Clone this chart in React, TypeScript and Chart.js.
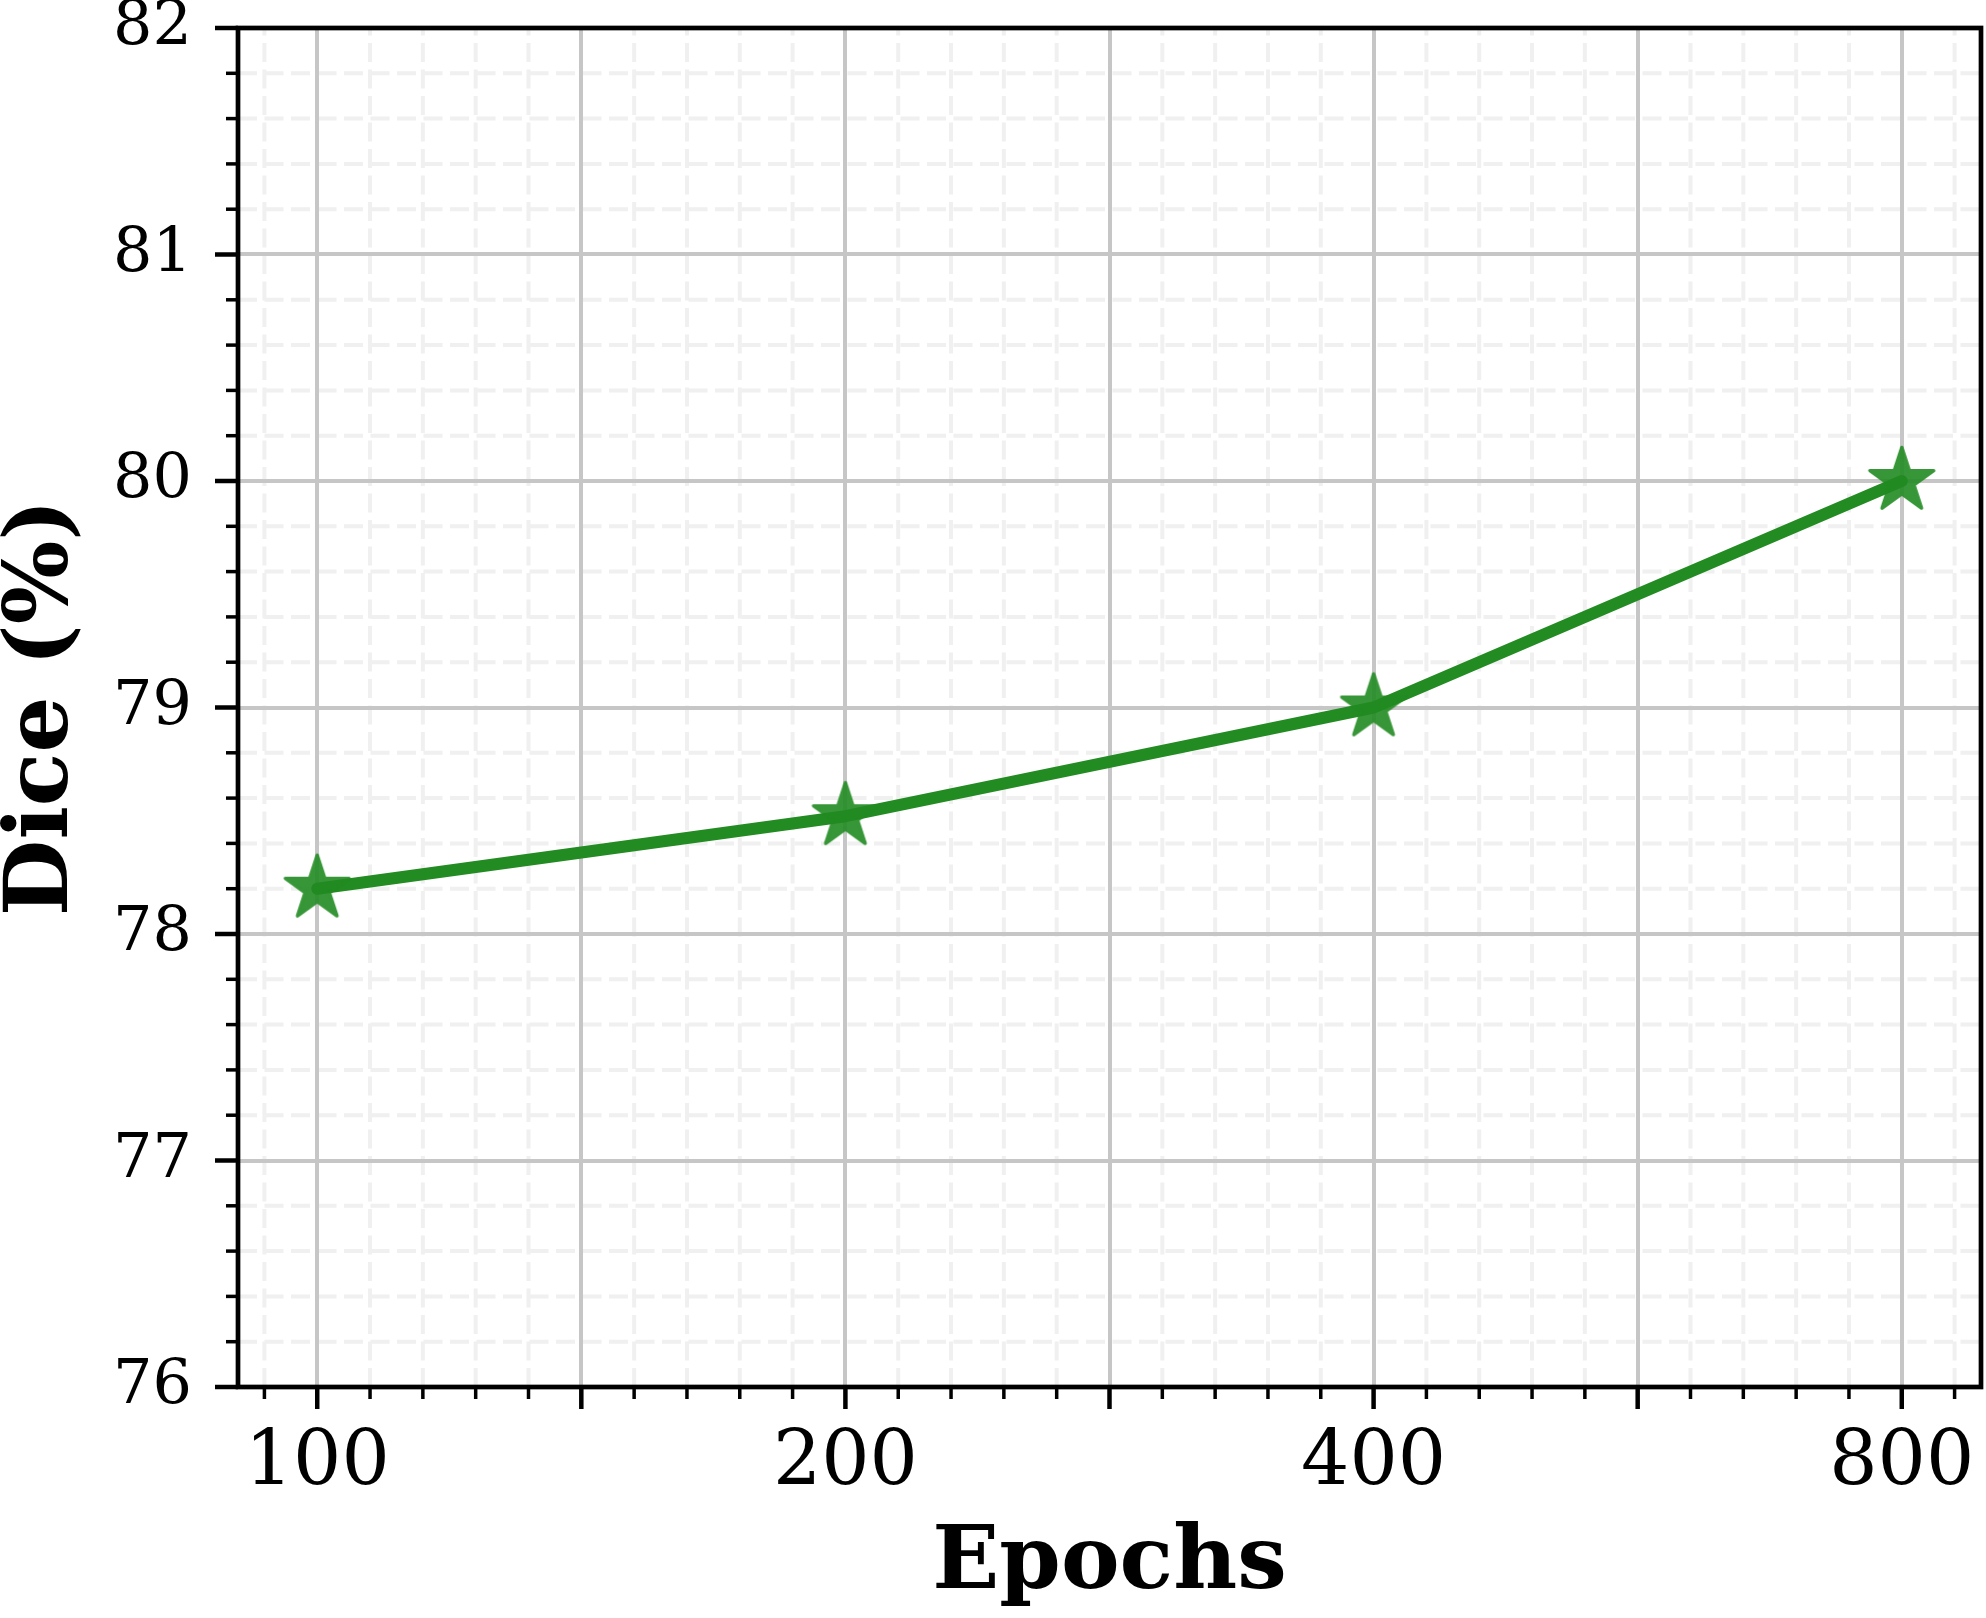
import React, { useEffect, useRef } from 'react';
import { Chart, registerables } from 'chart.js';

Chart.register(...registerables);

// ---- data ----
const epochLabels = ['100', '200', '400', '800'];
const epochPositions = [0, 1, 2, 3];
const diceValues = [78.2, 78.52, 79.0, 80.0];
const yTickValues = [76, 77, 78, 79, 80, 81, 82];
const xMajorTickValues = [0, 0.5, 1, 1.5, 2, 2.5, 3];
const X_MIN = -0.15;
const X_MAX = 3.15;
const Y_MIN = 76;
const Y_MAX = 82;
const X_MINOR_STEP = 0.1;
const Y_MINOR_STEP = 0.2;

// ---- layout / style ----
const W = 1986;
const H = 1618;
const AREA = { left: 238, top: 28, right: 1981, bottom: 1387 };
const FONT = "'DejaVu Serif', serif";
const GREEN = '#228B22';

function makeStar(): HTMLCanvasElement {
  const size = 90;
  const base = document.createElement('canvas');
  base.width = size;
  base.height = size;
  const bctx = base.getContext('2d')!;
  const cx = size / 2;
  const cy = size / 2;
  const R = 33.5;
  const r = R * 0.381966;
  bctx.beginPath();
  for (let i = 0; i < 10; i++) {
    const rad = i % 2 === 0 ? R : r;
    const a = -Math.PI / 2 + (i * Math.PI) / 5;
    const px = cx + rad * Math.cos(a);
    const py = cy + rad * Math.sin(a);
    if (i === 0) bctx.moveTo(px, py);
    else bctx.lineTo(px, py);
  }
  bctx.closePath();
  bctx.fillStyle = GREEN;
  bctx.fill();
  bctx.lineJoin = 'round';
  bctx.lineWidth = 3.5;
  bctx.strokeStyle = GREEN;
  bctx.stroke();
  const out = document.createElement('canvas');
  out.width = size;
  out.height = size;
  const octx = out.getContext('2d')!;
  octx.globalAlpha = 0.9;
  octx.drawImage(base, 0, 0);
  return out;
}

const mplPlugin = {
  id: 'mplDecor',
  beforeDraw(chart: any) {
    const { ctx, chartArea: a } = chart;
    const x = chart.scales.x;
    const y = chart.scales.y;
    ctx.save();
    ctx.strokeStyle = '#f0f0f0';
    ctx.lineWidth = 4;
    ctx.setLineDash([19, 7.5]);
    for (let i = Math.ceil(X_MIN / X_MINOR_STEP); i * X_MINOR_STEP <= X_MAX + 1e-9; i++) {
      if (i % 5 === 0) continue;
      const px = x.getPixelForValue(i * X_MINOR_STEP);
      ctx.beginPath();
      ctx.moveTo(px, a.bottom);
      ctx.lineTo(px, a.top);
      ctx.stroke();
    }
    for (let i = Math.round(Y_MIN / Y_MINOR_STEP); i * Y_MINOR_STEP <= Y_MAX + 1e-9; i++) {
      if (i % 5 === 0) continue;
      const py = y.getPixelForValue(i * Y_MINOR_STEP);
      ctx.beginPath();
      ctx.moveTo(a.left, py);
      ctx.lineTo(a.right, py);
      ctx.stroke();
    }
    ctx.restore();
  },
  afterDraw(chart: any) {
    const { ctx, chartArea: a } = chart;
    const x = chart.scales.x;
    const y = chart.scales.y;
    ctx.save();
    ctx.strokeStyle = '#000';
    ctx.lineCap = 'butt';
    // minor ticks
    ctx.lineWidth = 3.5;
    for (let i = Math.ceil(X_MIN / X_MINOR_STEP); i * X_MINOR_STEP <= X_MAX + 1e-9; i++) {
      if (i % 5 === 0) continue;
      const px = x.getPixelForValue(i * X_MINOR_STEP);
      ctx.beginPath();
      ctx.moveTo(px, a.bottom);
      ctx.lineTo(px, a.bottom + 12);
      ctx.stroke();
    }
    for (let i = Math.round(Y_MIN / Y_MINOR_STEP); i * Y_MINOR_STEP <= Y_MAX + 1e-9; i++) {
      if (i % 5 === 0) continue;
      const py = y.getPixelForValue(i * Y_MINOR_STEP);
      ctx.beginPath();
      ctx.moveTo(a.left, py);
      ctx.lineTo(a.left - 12, py);
      ctx.stroke();
    }
    // major ticks
    ctx.lineWidth = 4.5;
    xMajorTickValues.forEach((v) => {
      const px = x.getPixelForValue(v);
      ctx.beginPath();
      ctx.moveTo(px, a.bottom);
      ctx.lineTo(px, a.bottom + 22);
      ctx.stroke();
    });
    yTickValues.forEach((v) => {
      const py = y.getPixelForValue(v);
      ctx.beginPath();
      ctx.moveTo(a.left, py);
      ctx.lineTo(a.left - 23, py);
      ctx.stroke();
    });
    // spines
    ctx.lineWidth = 4.7;
    ctx.lineJoin = 'miter';
    ctx.strokeRect(a.left, a.top, a.right - a.left, a.bottom - a.top);
    ctx.restore();
  },
};

export default function App() {
  const ref = useRef<HTMLCanvasElement | null>(null);

  useEffect(() => {
    document.body.style.margin = '0';
    const canvas = ref.current!;
    const star = makeStar();
    const chart = new Chart(canvas, {
      type: 'line',
      data: {
        datasets: [
          {
            data: epochPositions.map((p, i) => ({ x: p, y: diceValues[i] })),
            borderColor: GREEN,
            backgroundColor: GREEN,
            borderWidth: 12,
            tension: 0,
            fill: false,
            pointStyle: star as any,
            pointRadius: 34,
            pointHoverRadius: 34,
            borderJoinStyle: 'round',
            borderCapStyle: 'round',
          },
        ],
      },
      options: {
        animation: false,
        responsive: false,
        devicePixelRatio: 1,
        events: [],
        layout: {
          autoPadding: false,
          padding: { top: AREA.top, right: W - AREA.right, left: 0, bottom: 0 },
        },
        plugins: {
          legend: { display: false },
          tooltip: { enabled: false },
        },
        scales: {
          x: {
            type: 'linear',
            min: X_MIN,
            max: X_MAX,
            afterBuildTicks: (s: any) => {
              s.ticks = xMajorTickValues.map((v) => ({ value: v }));
            },
            afterFit: (s: any) => {
              s.height = H - AREA.bottom;
              s.paddingLeft = 0;
              s.paddingRight = 0;
            },
            ticks: {
              autoSkip: false,
              maxRotation: 0,
              minRotation: 0,
              padding: 32,
              color: '#000',
              font: { family: FONT, size: 76, lineHeight: 1.2 },
              callback: (v: any) => {
                const n = Number(v);
                return Number.isInteger(n) ? epochLabels[n] : '';
              },
            },
            grid: { color: '#c6c6c6', lineWidth: 4, drawTicks: false },
            border: { display: false },
            title: {
              display: true,
              text: 'Epochs',
              color: '#000',
              padding: 0,
              font: { family: FONT, size: 88, weight: 'bold', lineHeight: 1.2 },
            },
          },
          y: {
            type: 'linear',
            min: Y_MIN,
            max: Y_MAX,
            afterBuildTicks: (s: any) => {
              s.ticks = yTickValues.map((v) => ({ value: v }));
            },
            afterFit: (s: any) => {
              s.width = AREA.left;
              s.paddingTop = 0;
              s.paddingBottom = 0;
            },
            ticks: {
              padding: 46,
              color: '#000',
              font: { family: FONT, size: 62, lineHeight: 1.2 },
              callback: (v: any) => String(v),
            },
            grid: { color: '#c6c6c6', lineWidth: 4, drawTicks: false },
            border: { display: false },
            title: {
              display: true,
              text: 'Dice (%)',
              color: '#000',
              padding: 0,
              font: { family: FONT, size: 88, weight: 'bold', lineHeight: 1.0 },
            },
          },
        },
      },
      plugins: [mplPlugin],
    } as any);
    return () => chart.destroy();
  }, []);

  return (
    <div style={{ position: 'absolute', left: 0, top: 0, width: W, height: H, background: '#fff' }}>
      <canvas ref={ref} width={W} height={H} style={{ display: 'block', width: W, height: H }} />
    </div>
  );
}
